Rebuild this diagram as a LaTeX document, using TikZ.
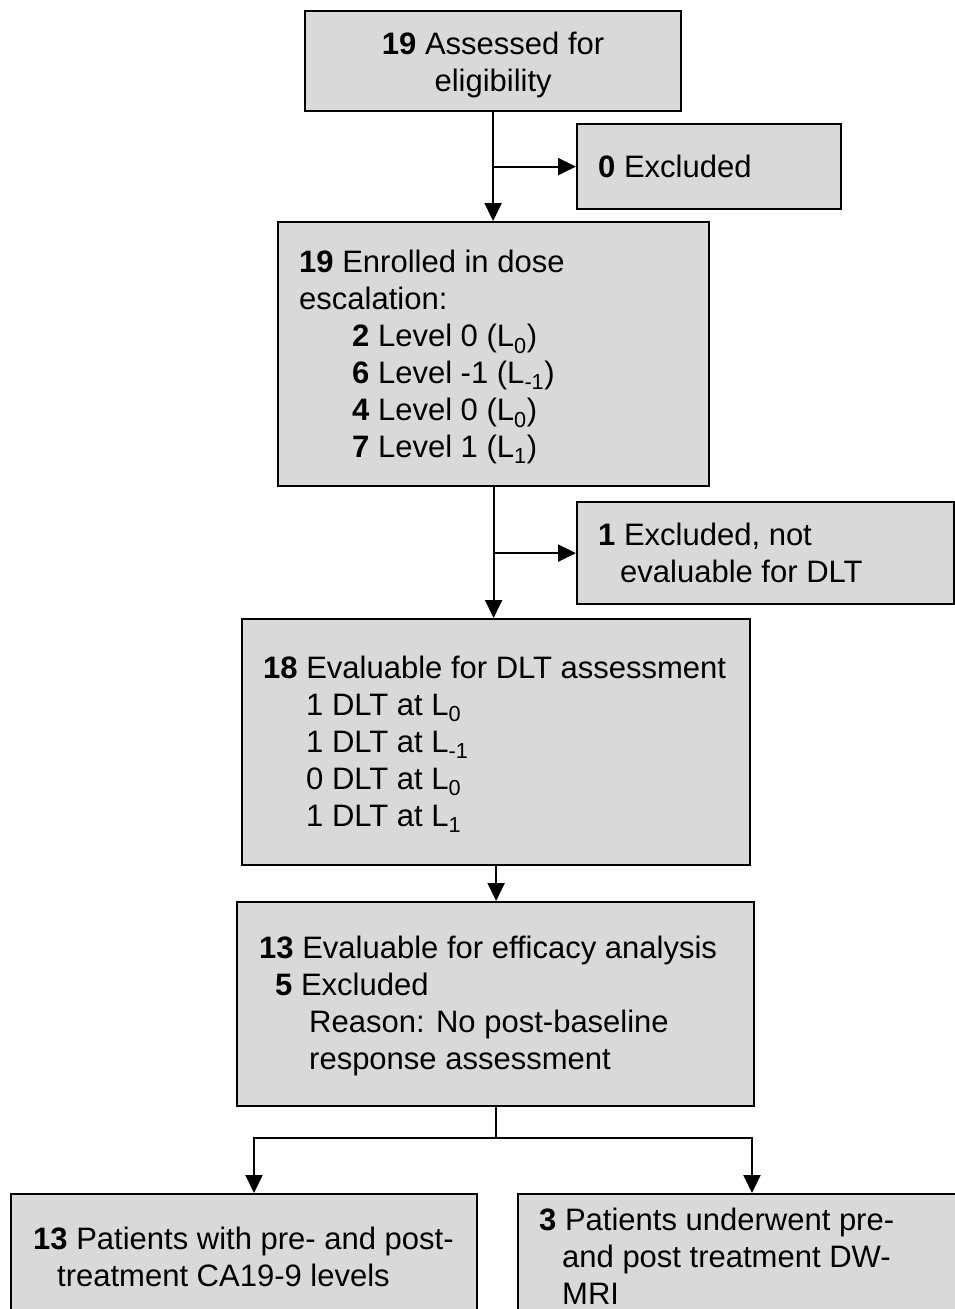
\documentclass[tikz,border=0pt]{standalone}
\usepackage{fontspec}
\setmainfont{Liberation Sans}
\usetikzlibrary{arrows.meta}
\definecolor{boxfill}{RGB}{217,217,217}
\begin{document}
\begin{tikzpicture}[x=1pt,y=-1pt,
  box/.style={draw=black, fill=boxfill, line width=2.2pt, rectangle, inner sep=0pt, anchor=north west},
  txt/.style={font=\fontsize{31}{37}\selectfont, align=left, inner sep=0pt, anchor=west},
  conn/.style={line width=2pt, draw=black},
  arr/.style={conn, -{Triangle[length=18pt,width=17pt]}}
]
\useasboundingbox (0,0) rectangle (955,1309);
\clip (0,0) rectangle (955,1309);

% boxes
\node[box, minimum width=376pt, minimum height=100pt] (b1) at (304,10) {};
\node[box, minimum width=264pt, minimum height=85pt] (ex0) at (576,123) {};
\node[box, minimum width=431pt, minimum height=264pt] (b2) at (277,221) {};
\node[box, minimum width=377pt, minimum height=102pt] (ex1) at (576,501) {};
\node[box, minimum width=508pt, minimum height=246pt] (b3) at (241,618) {};
\node[box, minimum width=517pt, minimum height=204pt] (b4) at (236,901) {};
\node[box, minimum width=466pt, minimum height=125pt] (b5) at (10,1193) {};
\node[box, minimum width=480pt, minimum height=125pt] (b6) at (517,1193) {};

% texts
\node[txt, align=center, anchor=center] (t1) at ([yshift=-4pt]b1.center) {\textbf{19} Assessed for\\eligibility};
\node[txt] (tex0) at ([xshift=22pt]ex0.west) {\textbf{0} Excluded};
\node[txt] (t2) at ([xshift=22pt,yshift=-3pt]b2.west) {\textbf{19} Enrolled in dose\\escalation:\\
\hspace*{53pt}\textbf{2} Level 0 (L\textsubscript{0})\\
\hspace*{53pt}\textbf{6} Level -1 (L\textsubscript{-1})\\
\hspace*{53pt}\textbf{4} Level 0 (L\textsubscript{0})\\
\hspace*{53pt}\textbf{7} Level 1 (L\textsubscript{1})};
\node[txt] (tex1) at ([xshift=22pt]ex1.west) {\textbf{1} Excluded, not\\\hspace*{22pt}evaluable for DLT};
\node[txt] (t3) at ([xshift=22pt,yshift=-2pt]b3.west) {\textbf{18} Evaluable for DLT assessment\\
\hspace*{43pt}1 DLT at L\textsubscript{0}\\
\hspace*{43pt}1 DLT at L\textsubscript{-1}\\
\hspace*{43pt}0 DLT at L\textsubscript{0}\\
\hspace*{43pt}1 DLT at L\textsubscript{1}};
\node[txt] (t4) at ([xshift=23pt,yshift=-2pt]b4.west) {\textbf{13} Evaluable for efficacy analysis\\
\hspace*{16pt}\textbf{5} Excluded\\
\hspace*{50pt}Reason: No post-baseline\\
\hspace*{50pt}response assessment};
\node[txt] (t5) at ([xshift=23pt]b5.west) {\textbf{13} Patients with pre- and post-\\\hspace*{24pt}treatment CA19-9 levels};
\node[txt] (t6) at ([xshift=22pt]b6.west) {\textbf{3} Patients underwent pre-\\\hspace*{23pt}and post treatment DW-\\\hspace*{23pt}MRI};

% connectors
\draw[arr] (b1.south) -- (b1.south |- b2.north);
\coordinate (j1) at (b1.south |- ex0.west);
\draw[arr] (j1) -- (ex0.west);
\draw[arr] (b2.south) -- (b2.south |- b3.north);
\coordinate (j2) at (b2.south |- ex1.west);
\draw[arr] (j2) -- (ex1.west);
\draw[arr] (b3.south) -- (b3.south |- b4.north);
\coordinate (j3) at (b4.south |- 0,1138);
\coordinate (l5) at (254,1138);
\coordinate (r6) at (752,1138);
\draw[conn] (b4.south) -- (j3);
\draw[arr] (j3) -- (l5) -- (l5 |- b5.north);
\draw[arr] (j3) -- (r6) -- (r6 |- b6.north);
\end{tikzpicture}
\end{document}
